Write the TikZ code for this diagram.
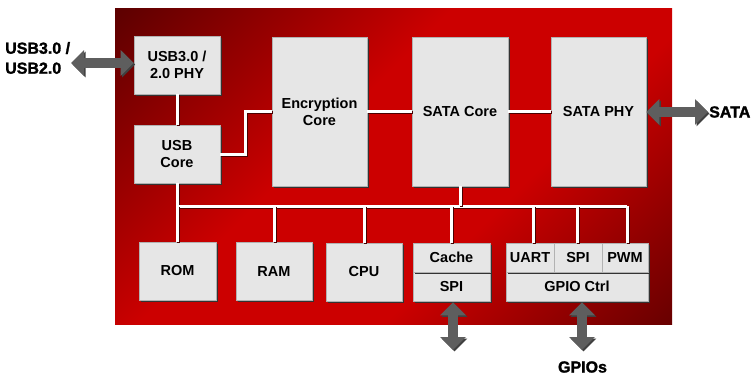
\documentclass[tikz,border=0pt]{standalone}
\usepackage{fontspec}
\setmainfont{Liberation Sans}
\newfontfamily\heavyfont[FakeBold=1.6]{Liberation Sans Bold}
\usetikzlibrary{arrows.meta,shadows}
\definecolor{boxgray}{HTML}{E6E6E6}
\definecolor{bgdark}{HTML}{5A0000}
\definecolor{bgred}{HTML}{CC0000}
\definecolor{bgdarkb}{HTML}{660000}
\definecolor{arrowgray}{HTML}{5E5E5E}
\definecolor{lineshadow}{HTML}{4A0000}
\pgfdeclarehorizontalshading{redbg}{100bp}{color(0bp)=(bgdark); color(14bp)=(bgdark); color(42bp)=(bgred); color(62bp)=(bgred); color(86bp)=(bgdarkb); color(100bp)=(bgdarkb)}
\tikzset{
  blk/.style={fill=boxgray, draw=black!30, line width=0.6pt, inner sep=0pt, align=center,
    general shadow={fill=black!80, shadow xshift=1.8pt, shadow yshift=-1.8pt}},
  wire/.style={draw=white, line width=3pt,
    preaction={draw=lineshadow, line width=3pt, transform canvas={shift={(1pt,-1pt)}}}},
  bigarrow/.style={draw=arrowgray, line width=10pt,
    {Triangle[width=25pt,length=13pt]}-{Triangle[width=25pt,length=13pt]},
    preaction={draw=black!75, transform canvas={shift={(1.5pt,-1.5pt)}}}},
  outlbl/.style={font=\heavyfont\fontsize{16}{20}\selectfont, inner sep=0pt}
}
\begin{document}
\begin{tikzpicture}[x=1pt,y=-1pt, font=\bfseries\fontsize{14.5}{17}\selectfont]
\useasboundingbox (0,0) rectangle (753,375);
% background panel
\shade[shading=redbg, shading angle=-45] (115,8) rectangle (672,324);

% top row
\node[blk, minimum width=86pt, minimum height=58pt] (phy) at (177,65) {USB3.0 /\\2.0 PHY};
\node[blk, minimum width=86pt, minimum height=58pt] (usbcore) at (177,154) {USB\\Core};
\node[blk, minimum width=95pt, minimum height=149pt] (enc) at (319.5,111.5) {Encryption\\Core};
\node[blk, minimum width=96pt, minimum height=149pt] (sata) at (460,111.5) {SATA Core};
\node[blk, minimum width=95pt, minimum height=149pt] (sataphy) at (598.5,111.5) {SATA PHY};

% bottom row
\node[blk, minimum width=77pt, minimum height=58pt] (rom) at (177.5,271) {ROM};
\node[blk, minimum width=76pt, minimum height=58pt] (ram) at (274,271.5) {RAM};
\node[blk, minimum width=76pt, minimum height=58pt] (cpu) at (364,272) {CPU};
\node[blk, minimum width=77pt, minimum height=29pt] (spi) at (451.5,286.5) {SPI};
\node[blk, minimum width=77pt, minimum height=29pt] (cache) at (451.5,257.5) {Cache};
\node[blk, minimum width=142pt, minimum height=29pt] (gpio) at (577,286.5) {GPIO Ctrl};
\node[blk, minimum width=48pt, minimum height=29pt] (uart) at (530,257.5) {UART};
\node[blk, minimum width=48pt, minimum height=29pt] (spib) at (578,257.5) {SPI};
\node[blk, minimum width=46pt, minimum height=29pt] (pwm) at (625,257.5) {PWM};

% bus
\coordinate (busL) at (178.5,206);
\coordinate (busR) at (627,206);
\draw[wire] (phy.south) -- (usbcore.north);
\draw[wire] (usbcore.south) -- (usbcore.south |- busL);
\draw[wire] (busL) -- (busR);
\draw[wire] (usbcore.east) -- ++(25,0) |- (enc.west);
\draw[wire] (enc.east) -- (sata.west);
\draw[wire] (sata.east) -- (sataphy.west);
\draw[wire] (sata.south) -- (sata.south |- busL);
\draw[wire] (rom.north |- busL) -- (rom.north);
\draw[wire] (ram.north |- busL) -- (ram.north);
\draw[wire] (cpu.north |- busL) -- (cpu.north);
\draw[wire] (cache.north |- busL) -- (cache.north);
\draw[wire] ([xshift=3pt]uart.north |- busL) -- ([xshift=3pt]uart.north);
\draw[wire] ([xshift=-1pt]spib.north |- busL) -- ([xshift=-1pt]spib.north);
\draw[wire] ([xshift=2pt]pwm.north) -- ([xshift=2pt]pwm.north |- busL);

% external labels and arrows
\node[outlbl, anchor=west, align=left] (usblbl) at (5,58) {USB3.0 /\\USB2.0};
\node[outlbl, anchor=west] (satalbl) at (709,112) {SATA};
\node[outlbl] (gpiolbl) at (582.5,367) {GPIOs};
\coordinate (usbend) at (71,63);
\coordinate (sataend) at (708,112);
\coordinate (spiend) at (453,350);
\coordinate (gpioend) at (582,350);
\draw[bigarrow] (usbend) -- (usbend -| phy.west);
\draw[bigarrow] (sataphy.east |- sataend) -- (sataend);
\draw[bigarrow] ([xshift=1.5pt,yshift=-1pt]spi.south) -- (spiend);
\draw[bigarrow] ([xshift=5pt,yshift=-1pt]gpio.south) -- (gpioend);
\end{tikzpicture}
\end{document}
